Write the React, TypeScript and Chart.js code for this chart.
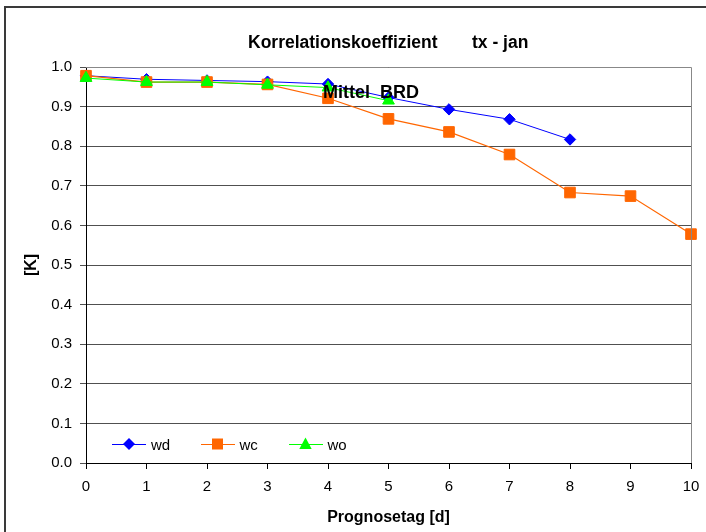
import React, { useEffect, useRef } from 'react';
import { Chart, registerables } from 'chart.js';

Chart.register(...registerables);

// ---- data ----
const days = [0, 1, 2, 3, 4, 5, 6, 7, 8, 9, 10];
const wd = [0.978, 0.969, 0.966, 0.963, 0.957, 0.923, 0.893, 0.868, 0.817];
const wc = [0.978, 0.962, 0.962, 0.956, 0.921, 0.869, 0.836, 0.779, 0.683, 0.674, 0.578];
const wo = [0.972, 0.962, 0.962, 0.955, 0.948, 0.915];
const yTicks = [0, 0.1, 0.2, 0.3, 0.4, 0.5, 0.6, 0.7, 0.8, 0.9, 1.0];
const seriesNames = ['wd', 'wc', 'wo'];
const titleMain = 'Korrelationskoeffizient';
const titleSub = 'tx - jan';
const noteText = 'Mittel  BRD';
const xTitle = 'Prognosetag [d]';
const yTitle = '[K]';

const COLORS = ['#0000FF', '#FF6600', '#00FF00'];
const FONT = 'Arial, "Liberation Sans", sans-serif';

const toPts = (vals: number[]) => vals.map((v, i) => ({ x: days[i], y: v }));

function drawMarker(ctx: CanvasRenderingContext2D, kind: number, x: number, y: number, color: string) {
  ctx.save();
  ctx.fillStyle = color;
  ctx.beginPath();
  if (kind === 0) {
    ctx.moveTo(x, y - 6);
    ctx.lineTo(x + 6, y);
    ctx.lineTo(x, y + 6);
    ctx.lineTo(x - 6, y);
    ctx.closePath();
  } else if (kind === 1) {
    ctx.rect(x - 5.5, y - 5.5, 11, 11);
  } else {
    ctx.moveTo(x, y - 6.5);
    ctx.lineTo(x + 6.2, y + 5);
    ctx.lineTo(x - 6.2, y + 5);
    ctx.closePath();
  }
  ctx.fill();
  ctx.restore();
}

const decorPlugin = {
  id: 'decor',
  afterDraw(chart: any) {
    const ctx: CanvasRenderingContext2D = chart.ctx;
    const area = chart.chartArea;
    ctx.save();
    // outer frame
    ctx.strokeStyle = '#3a3a3a';
    ctx.lineWidth = 2;
    ctx.beginPath();
    ctx.moveTo(5, 540);
    ctx.lineTo(5, 7);
    ctx.lineTo(710, 7);
    ctx.stroke();
    // plot area top/right border
    ctx.strokeStyle = '#888888';
    ctx.lineWidth = 1;
    ctx.beginPath();
    ctx.moveTo(area.left, area.top + 0.5);
    ctx.lineTo(area.right + 0.5, area.top + 0.5);
    ctx.lineTo(area.right + 0.5, area.bottom);
    ctx.stroke();

    // titles
    ctx.fillStyle = '#000';
    ctx.textBaseline = 'alphabetic';
    ctx.textAlign = 'left';
    ctx.font = `bold 17.5px ${FONT}`;
    ctx.fillText(titleMain, 248, 48);
    ctx.fillText(titleSub, 472, 48);

    // note
    ctx.font = `bold 18px ${FONT}`;
    ctx.fillText(noteText, 323, 98);

    // legend
    const ly = 444;
    const items = [
      { lx: 112, mx: 129, tx: 151 },
      { lx: 201, mx: 217.5, tx: 239.5 },
      { lx: 289, mx: 305.5, tx: 327.5 },
    ];
    ctx.font = `15px ${FONT}`;
    items.forEach((it, i) => {
      ctx.strokeStyle = COLORS[i];
      ctx.lineWidth = 1;
      ctx.beginPath();
      ctx.moveTo(it.lx, ly + 0.5);
      ctx.lineTo(it.lx + 34, ly + 0.5);
      ctx.stroke();
      drawMarker(ctx, i, it.mx, ly, COLORS[i]);
      ctx.fillStyle = '#000';
      ctx.fillText(seriesNames[i], it.tx, 449.5);
    });
    ctx.restore();
  },
};

export default function App() {
  const ref = useRef<HTMLCanvasElement | null>(null);

  useEffect(() => {
    if (!ref.current) return;
    Chart.defaults.font.family = FONT;
    const chart = new Chart(ref.current, {
      type: 'line',
      data: {
        datasets: [
          {
            label: seriesNames[0],
            data: toPts(wd),
            borderColor: COLORS[0],
            backgroundColor: COLORS[0],
            borderWidth: 1,
            pointStyle: 'rectRot',
            pointRadius: 5.7,
            pointBorderWidth: 1,
            clip: false,
            order: 3,
          },
          {
            label: seriesNames[1],
            data: toPts(wc),
            borderColor: COLORS[1],
            backgroundColor: COLORS[1],
            borderWidth: 1.2,
            pointStyle: 'rect',
            pointRadius: 7.5,
            pointBorderWidth: 1,
            clip: false,
            order: 2,
          },
          {
            label: seriesNames[2],
            data: toPts(wo),
            borderColor: COLORS[2],
            backgroundColor: COLORS[2],
            borderWidth: 1,
            pointStyle: 'triangle',
            pointRadius: 6.8,
            pointBorderWidth: 1,
            clip: false,
            order: 1,
          },
        ],
      },
      options: {
        responsive: false,
        animation: false,
        devicePixelRatio: 1,
        layout: { padding: { top: 67, right: 15, bottom: 0, left: 0 } },
        plugins: {
          legend: { display: false },
          title: { display: false },
          tooltip: { enabled: false },
        },
        elements: { line: { tension: 0 } },
        scales: {
          x: {
            type: 'linear',
            min: 0,
            max: 10,
            afterFit: (s: any) => { s.height = 69; s.paddingRight = 0; s.paddingLeft = 0; },
            ticks: { stepSize: 1, color: '#000', font: { size: 15 }, padding: 9, maxRotation: 0 },
            grid: { drawOnChartArea: false, drawTicks: true, tickLength: 6, color: '#000' },
            border: { color: '#000', width: 1 },
            title: {
              display: true,
              text: xTitle,
              color: '#000',
              font: { size: 16, weight: 'bold' },
              padding: { top: 0, bottom: 5 },
            },
          },
          y: {
            type: 'linear',
            min: 0,
            max: 1,
            afterFit: (s: any) => { s.width = 86; s.paddingTop = 0; s.paddingBottom = 0; },
            afterBuildTicks: (s: any) => { s.ticks = yTicks.map((v) => ({ value: v })); },
            ticks: {
              color: '#000',
              font: { size: 15 },
              padding: 8,
              callback: (v: any) => Number(v).toFixed(1),
            },
            grid: { color: '#505050', lineWidth: 1, drawTicks: true, tickLength: 6 },
            border: { color: '#000', width: 1 },
            title: {
              display: true,
              text: yTitle,
              color: '#000',
              font: { size: 16, weight: 'bold' },
              padding: { top: 22, bottom: 0 },
            },
          },
        },
      },
      plugins: [decorPlugin],
    });
    return () => chart.destroy();
  }, []);

  return (
    <div style={{ position: 'absolute', left: 0, top: 0, width: 706, height: 532, background: '#fff' }}>
      <canvas ref={ref} width={706} height={532} style={{ width: 706, height: 532, display: 'block' }} />
    </div>
  );
}
